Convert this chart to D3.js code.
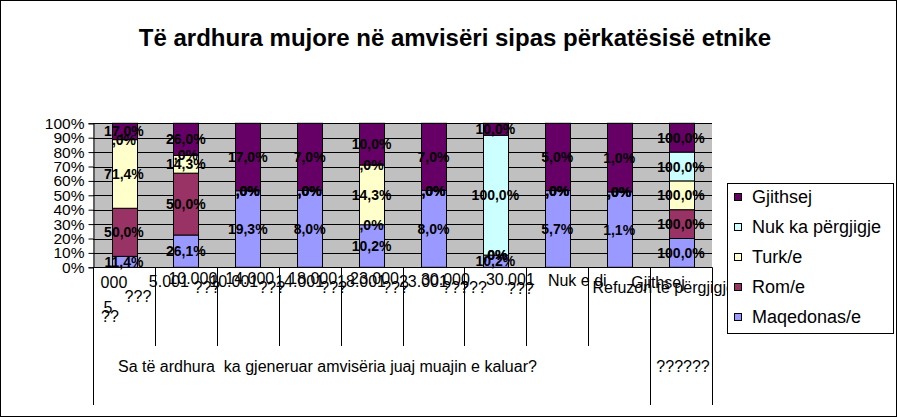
<!DOCTYPE html>
<html>
<head>
<meta charset="utf-8">
<script src="https://cdn.jsdelivr.net/npm/d3@7"></script>
<style>
  html, body { margin: 0; padding: 0; background: #fff; }
  svg { display: block; font-family: "Liberation Sans", Arial, sans-serif; }
  .dlabel { font-size: 14px; font-weight: bold; fill: #000; }
  .cat { font-size: 16px; fill: #000; }
</style>
</head>
<body>
<svg id="chart" width="897" height="417"></svg>
<script>
// Të ardhura mujore — 100% stacked columns (Excel look)
const categories = ['c1', 'c2', 'c3', 'c4', 'c5', 'c6', 'c7', 'c8', 'c9', 'c10'];
const seriesNames = ['Maqedonas/e', 'Rom/e', 'Turk/e', 'Nuk ka përgjigje', 'Gjithsej'];

const maqedonas = [11.4, 26.1, 19.3, 8.0, 10.2, 8.0, 10.2, 5.7, 1.1, 100];
const rom       = [50.0, 50.0, 0, 0, 0, 0, 0, 0, 0, 100];
const turk      = [71.4, 14.3, 0, 0, 14.3, 0, 0, 0, 0, 100];
const nukKa     = [0, 0, 0, 0, 0, 0, 100, 0, 0, 100];
const gjithsej  = [17.0, 26.0, 17.0, 7.0, 10.0, 7.0, 10.0, 5.0, 1.0, 100];

// garbled category labels as they show in the picture (pieces per category)
const tickLabels = [
  ['000', '???', '5', '??'],
  ['5.001', '10.000', '???'],
  ['10.001', '14.000', '???'],
  ['14.001', '18.000', '???'],
  ['18.001', '23.000', '???'],
  ['23.001', '30.000', '???', '???'],
  ['30.001', '???'],
  ['Nuk e di'],
  ['Refuzon të përgjigjen'],
  ['Gjithsej']
];
const groupLabels = ['Sa të ardhura  ka gjeneruar amvisëria juaj muajin e kaluar?', '??????'];
const yTicks = [0, 0.1, 0.2, 0.3, 0.4, 0.5, 0.6, 0.7, 0.8, 0.9, 1];

const colors = ['#9999FF', '#993366', '#FFFFCC', '#CCFFFF', '#660066'];

// layout of the label pieces: [dx from band centre, baseline y]
const pieceLayout = [
  [[-10, 288], [14, 302], [-16, 313], [-14, 322]],
  [[-17, 287], [7, 284], [21, 293]],
  [[-14, 287], [2, 284], [24, 293]],
  [[-10, 287], [3, 284], [24, 293]],
  [[-10, 287], [3, 284], [24, 293]],
  [[-10, 287], [12, 285], [22, 293], [40, 293]],
  [[15, 285], [25, 294]],
  [[20, 286]],
  [[49, 293]],
  [[-23, 288]]
];

const svg = d3.select('#chart');
const W = 897, H = 417;
const plot = { left: 93, right: 712, top: 123.3, bottom: 267.3 };

// chart frame
svg.append('rect')
  .attr('x', 0.5).attr('y', 0.5).attr('width', W - 1).attr('height', H - 1)
  .attr('fill', '#fff').attr('stroke', '#000');

svg.append('text')
  .attr('x', 455).attr('y', 46)
  .attr('text-anchor', 'middle')
  .style('font-size', '24px').style('font-weight', 'bold')
  .text('Të ardhura mujore në amvisëri sipas përkatësisë etnike');

const rows = categories.map((c, i) => ({
  cat: c,
  'Maqedonas/e': maqedonas[i],
  'Rom/e': rom[i],
  'Turk/e': turk[i],
  'Nuk ka përgjigje': nukKa[i],
  'Gjithsej': gjithsej[i]
}));

const stack = d3.stack().keys(seriesNames).offset(d3.stackOffsetExpand);
const layers = stack(rows);

const x = d3.scaleBand().domain(categories)
  .range([plot.left, plot.right]).paddingInner(0.6).paddingOuter(0.3);
const y = d3.scaleLinear().domain([0, 1]).range([plot.bottom, plot.top]);

// plot background + gridlines
svg.append('rect')
  .attr('x', plot.left).attr('y', plot.top)
  .attr('width', plot.right - plot.left).attr('height', plot.bottom - plot.top)
  .attr('fill', '#C0C0C0');

svg.append('g').selectAll('line').data(yTicks).join('line')
  .attr('x1', plot.left).attr('x2', plot.right)
  .attr('y1', d => Math.round(y(d)) + 0.5).attr('y2', d => Math.round(y(d)) + 0.5)
  .attr('stroke', '#000');

// bars
const barG = svg.append('g');
layers.forEach((layer, si) => {
  barG.append('g').selectAll('rect').data(layer).join('rect')
    .attr('x', d => Math.round(x(d.data.cat)) + 0.5)
    .attr('y', d => y(d[1]))
    .attr('width', Math.round(x.bandwidth()))
    .attr('height', d => y(d[0]) - y(d[1]))
    .attr('fill', colors[si])
    .attr('stroke', '#000');
});

// y axis
const yAxis = svg.append('g')
  .attr('transform', `translate(${plot.left + 0.5},0)`)
  .call(d3.axisLeft(y).tickValues(yTicks).tickSize(5).tickPadding(4).tickFormat(d3.format('.0%')));
yAxis.select('.domain').attr('stroke', '#000');
yAxis.selectAll('text').style('font-size', '15.5px').style('font-family', '"Liberation Sans", Arial, sans-serif').attr('fill', '#000');

// data labels
const locale = d3.formatLocale({ decimal: ',', thousands: '.', grouping: [3], currency: ['', ''] });
const f1 = locale.format('.1f');
const labelText = v => f1(v).replace(/^0/, '') + '%';
const lblG = svg.append('g');
layers.forEach(layer => {
  lblG.append('g').selectAll('text').data(layer).join('text')
    .attr('class', 'dlabel')
    .attr('text-anchor', 'middle')
    .attr('x', d => x(d.data.cat) + x.bandwidth() / 2)
    .attr('y', d => (y(d[0]) + y(d[1])) / 2 + 5)
    .text(d => labelText(d.data[layer.key]));
});

// x axis line and category separators
const axisY = plot.bottom;
svg.append('line')
  .attr('x1', plot.left).attr('x2', plot.right)
  .attr('y1', Math.round(axisY) + 0.5).attr('y2', Math.round(axisY) + 0.5)
  .attr('stroke', '#000');

const sepX = d3.range(categories.length + 1).map(i => plot.left + i * x.step());
svg.append('g').selectAll('line').data(sepX).join('line')
  .attr('x1', d => Math.round(d) + 0.5).attr('x2', d => Math.round(d) + 0.5)
  .attr('y1', axisY)
  .attr('y2', (d, i) => (i === 0 || i === 9 || i === 10) ? 405 : 346)
  .attr('stroke', '#000');

// category labels
const catG = svg.append('g');
tickLabels.forEach((pieces, i) => {
  const cx = x(categories[i]) + x.bandwidth() / 2;
  pieces.forEach((p, j) => {
    catG.append('text')
      .attr('class', 'cat')
      .attr('text-anchor', 'middle')
      .attr('x', cx + pieceLayout[i][j][0])
      .attr('y', pieceLayout[i][j][1])
      .text(p);
  });
});

// group labels (second level)
svg.append('text')
  .attr('class', 'cat')
  .attr('x', 118).attr('y', 372)
  .style('white-space', 'pre')
  .attr('xml:space', 'preserve')
  .text(groupLabels[0]);
svg.append('text')
  .attr('class', 'cat')
  .attr('text-anchor', 'middle')
  .attr('x', (sepX[9] + sepX[10]) / 2 + 2).attr('y', 372)
  .text(groupLabels[1]);

// legend
const leg = svg.append('g');
leg.append('rect')
  .attr('x', 727.5).attr('y', 183.5).attr('width', 166).attr('height', 150)
  .attr('fill', '#fff').attr('stroke', '#000');
const legendOrder = seriesNames.slice().reverse();
legendOrder.forEach((name, i) => {
  const cy = 197 + i * 30;
  leg.append('rect')
    .attr('x', 734.5).attr('y', cy - 3.5).attr('width', 7).attr('height', 7)
    .attr('fill', colors[seriesNames.indexOf(name)]).attr('stroke', '#000');
  leg.append('text')
    .attr('x', 752).attr('y', cy + 6)
    .style('font-size', '18px')
    .text(name);
});
</script>
</body>
</html>
